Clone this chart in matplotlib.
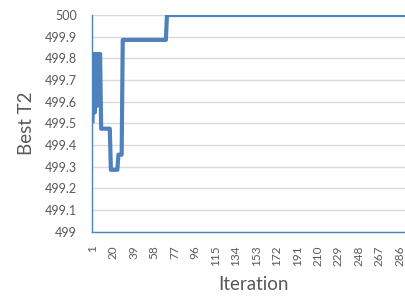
import numpy as np
from matplotlib import pyplot as plt

# 数据：每次迭代的最优 T2
n_iter = 300
iterations = list(range(1, n_iter + 1))
early_values = [499.51, 499.82, 499.55, 499.82, 499.58, 499.82, 499.82, 499.82]  # 第1-8次
plateau_values = [499.475, 499.285, 499.355, 499.885, 500.0]
plateau_ends = [17, 24, 28, 69, 300]  # 每段平台结束的迭代号

best_t2 = list(early_values)
for v, end in zip(plateau_values, plateau_ends):
    best_t2 += [v] * (end - len(best_t2))

y_ticks = [499 + i / 10 for i in range(11)]
x_tick_labels = list(range(1, n_iter + 1, 19))

plt.rcParams['font.family'] = ['Lato', 'DejaVu Sans']

fig = plt.figure(figsize=(4.06, 2.97), dpi=100)
ax = fig.add_axes([0.2266, 0.2205, 0.797, 0.729])

ax.plot(iterations, best_t2, color='#4F81BD', linewidth=3.0, solid_joinstyle='round')

ax.set_xlim(0.5, n_iter + 0.5)
ax.set_ylim(499, 500)
ax.set_yticks(y_ticks)
ax.set_yticklabels(['499' if abs(t - 499) < 1e-9 else ('500' if abs(t - 500) < 1e-9 else f'{t:.1f}') for t in y_ticks])
ax.set_xticks(x_tick_labels)
ax.set_xticklabels([str(x) for x in x_tick_labels], rotation=90)

ax.grid(True, axis='y', color='#D9D9D9', linewidth=1.0)
ax.set_axisbelow(True)
ax.tick_params(axis='both', length=0, colors='#595959', labelsize=9)
ax.tick_params(axis='x', labelsize=8.5, pad=10)
ax.tick_params(axis='y', pad=11)

for side in ['top', 'right']:
    ax.spines[side].set_visible(False)
for side in ['left', 'bottom']:
    ax.spines[side].set_color('#4F81BD')
    ax.spines[side].set_linewidth(1.0)

ax.set_ylabel('Best T2', fontsize=13.5, color='#595959', labelpad=7)
ax.set_xlabel('Iteration', fontsize=13.5, color='#595959', labelpad=7)

fig.savefig('out.png', dpi=100)
